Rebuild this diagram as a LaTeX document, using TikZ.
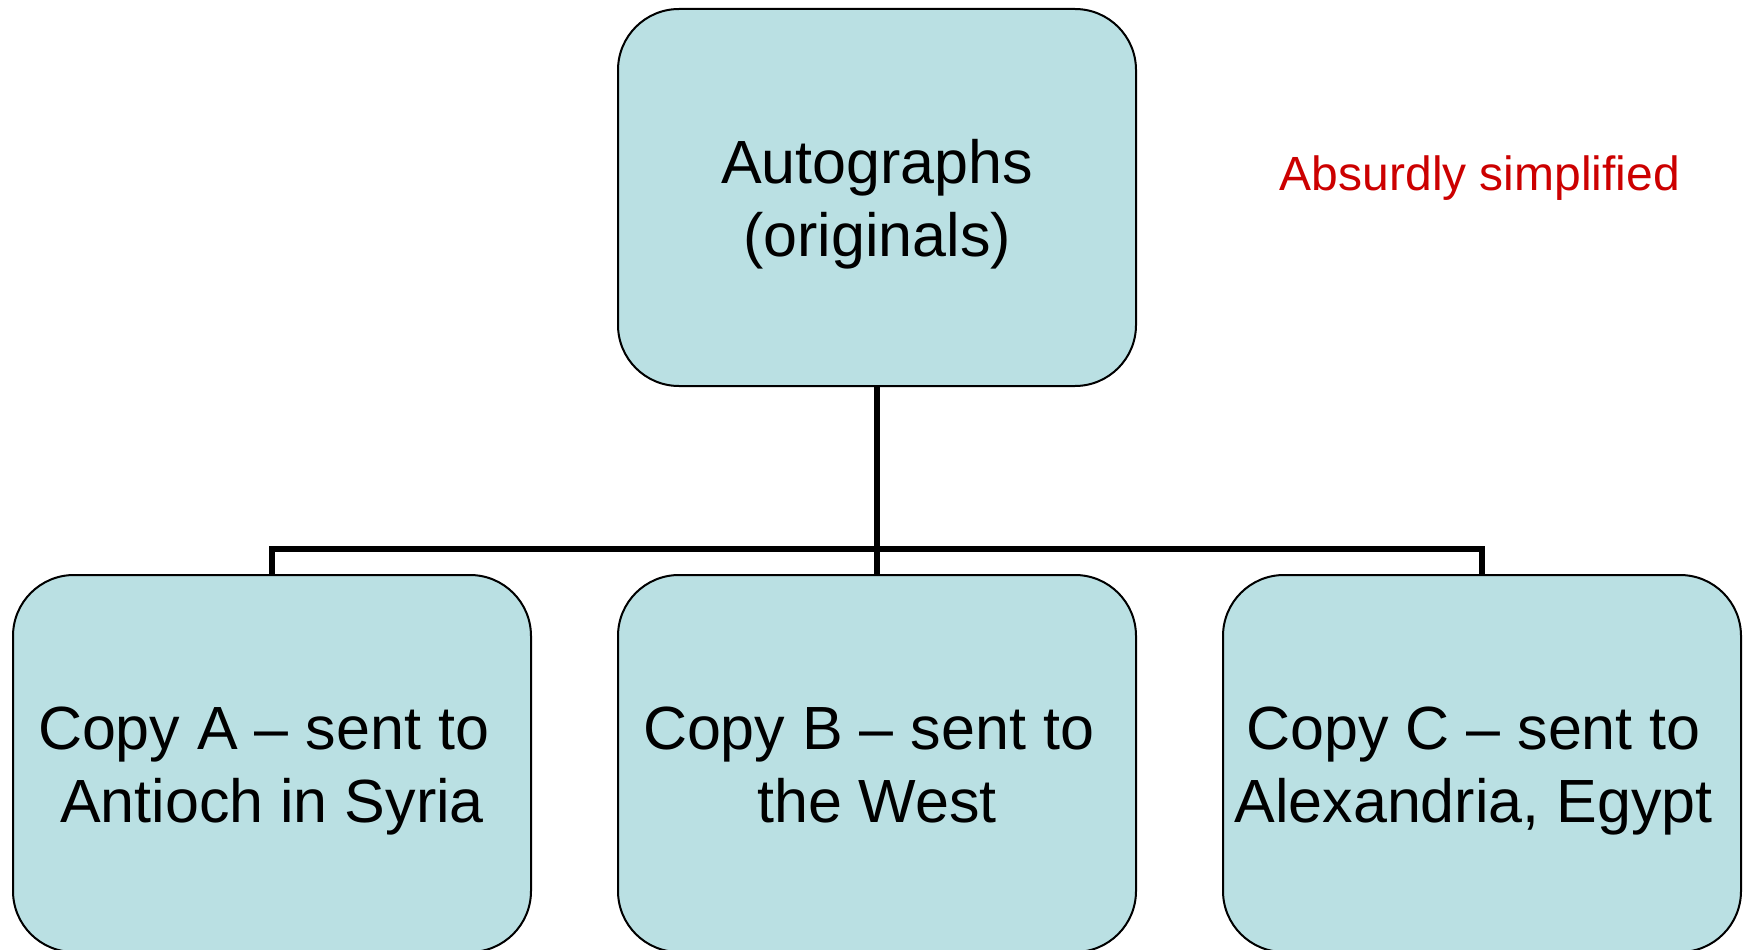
\documentclass[tikz,border=0pt]{standalone}
\usepackage{fontspec}
\setmainfont{Liberation Sans}
\definecolor{boxfill}{RGB}{186,224,227}
\definecolor{notered}{RGB}{204,0,0}
\newcommand\mystrut{\rule[-13pt]{0pt}{71pt}}
\newcommand\tsp{\hspace*{0.278em}}
\begin{document}
\begin{tikzpicture}[x=1pt,y=-1pt,
  box/.style={draw=black,line width=2pt,fill=boxfill,rounded corners=61pt,
    minimum width=518pt,minimum height=377pt,align=center,inner sep=0pt,
    font=\fontsize{61}{73}\selectfont},
  conn/.style={draw=black,line width=6pt}]
\useasboundingbox (0,0) rectangle (1743,950);
\fill[white] (0,0) rectangle (1743,950);
\node[box] (top) at (877,197.5) {\mystrut Autographs\\\mystrut(originals)};
\node[box] (A) at (272,763.5) {\mystrut Copy A -- sent to\tsp\\\mystrut Antioch in Syria};
\node[box] (B) at (877,763.5) {\mystrut Copy B -- sent to\tsp\\\mystrut the West};
\node[box] (C) at (1482,763.5) {\mystrut Copy C -- sent to\tsp\\\mystrut Alexandria, Egypt\tsp};
\node[text=notered,font=\fontsize{48}{56}\selectfont,anchor=base] (note) at (1480,190) {Absurdly simplified};
\draw[conn] (top.south) -- (B.north);
\draw[conn] (A.north) -- ++(0,-25) -| (C.north);
\end{tikzpicture}
\end{document}
